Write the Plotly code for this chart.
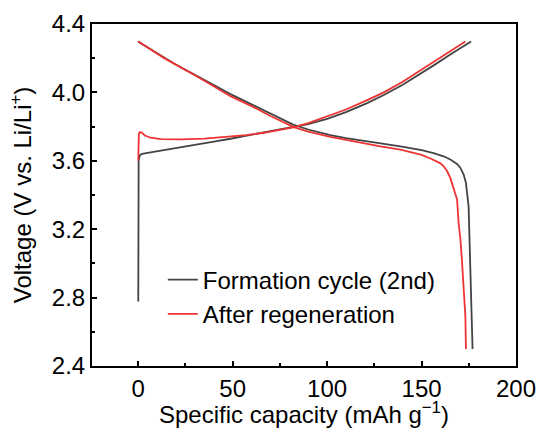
import plotly.graph_objects as go

# Formation cycle (2nd) - charge
fc_charge_x = [0, 0, 0.2, 0.8, 2, 5, 13.5, 25, 31.2, 40, 48.8, 57, 66.5, 75, 82, 90, 100, 110, 121.2, 130, 140, 150, 156.4, 165, 170, 176.2]
fc_charge_v = [2.777, 3.40, 3.60, 3.632, 3.640, 3.647, 3.662, 3.683, 3.695, 3.712, 3.729, 3.746, 3.764, 3.781, 3.795, 3.815, 3.845, 3.885, 3.937, 3.985, 4.045, 4.112, 4.158, 4.220, 4.255, 4.298]
# Formation cycle (2nd) - discharge
fc_dis_x = [0, 0.3, 5, 13.5, 20, 31.2, 40, 48.8, 60, 70, 82, 90, 101.7, 110, 121.2, 128.2, 138.8, 150, 156.4, 162, 165.2, 168.8, 170.5, 172.3, 173.5, 174.9, 175.8, 176.4, 177]
fc_dis_v = [4.300, 4.294, 4.262, 4.204, 4.162, 4.095, 4.042, 3.990, 3.930, 3.877, 3.812, 3.783, 3.750, 3.733, 3.715, 3.702, 3.685, 3.662, 3.645, 3.625, 3.608, 3.582, 3.560, 3.520, 3.470, 3.334, 3.030, 2.800, 2.500]

# After regeneration - charge
ar_charge_x = [0, 0, 0.3, 0.8, 1.8, 3.5, 6.5, 12, 22.4, 35, 48.8, 57, 66.5, 75, 82, 90, 101.7, 110, 121.2, 130, 140, 150, 156.4, 165, 173.2]
ar_charge_v = [3.600, 3.700, 3.755, 3.768, 3.765, 3.748, 3.735, 3.727, 3.725, 3.730, 3.740, 3.750, 3.764, 3.780, 3.796, 3.820, 3.866, 3.900, 3.955, 4.000, 4.062, 4.132, 4.180, 4.240, 4.298]
# After regeneration - discharge
ar_dis_x = [0, 0.3, 5, 13.5, 31.2, 48.8, 60, 70, 82.3, 90, 101.7, 110, 121.2, 128.2, 138.8, 150, 155, 160, 161.7, 163.5, 165.2, 167, 168.8, 169.6, 170.5, 171.3, 172.3, 173.2, 173.5]
ar_dis_v = [4.300, 4.296, 4.262, 4.202, 4.093, 3.978, 3.920, 3.862, 3.797, 3.770, 3.740, 3.722, 3.700, 3.685, 3.666, 3.635, 3.612, 3.585, 3.568, 3.540, 3.500, 3.432, 3.374, 3.237, 3.150, 3.030, 2.850, 2.690, 2.500]

names = ["Formation cycle (2nd)", "After regeneration"]
colors = ["#444444", "#ee3333"]
x_title = "Specific capacity (mAh g<sup>−1</sup>)"
y_title = "Voltage (V vs. Li/Li<sup>+</sup>)"

FONT = "Liberation Sans, Arial, sans-serif"
FS = 24

fig = go.Figure()
fig.add_trace(go.Scatter(x=fc_charge_x, y=fc_charge_v, mode="lines", name=names[0],
                         line=dict(color=colors[0], width=1.8), legendgroup="a"))
fig.add_trace(go.Scatter(x=fc_dis_x, y=fc_dis_v, mode="lines", name=names[0],
                         line=dict(color=colors[0], width=1.8), legendgroup="a", showlegend=False))
fig.add_trace(go.Scatter(x=ar_charge_x, y=ar_charge_v, mode="lines", name=names[1],
                         line=dict(color=colors[1], width=1.8), legendgroup="b"))
fig.add_trace(go.Scatter(x=ar_dis_x, y=ar_dis_v, mode="lines", name=names[1],
                         line=dict(color=colors[1], width=1.8), legendgroup="b", showlegend=False))

axis_common = dict(
    showline=True, linecolor="black", linewidth=2, mirror=True,
    ticks="inside", ticklen=5, tickwidth=1.5, tickcolor="black",
    showgrid=False, zeroline=False, automargin=False,
    tickfont=dict(family=FONT, size=FS, color="black"),
)

fig.update_xaxes(range=[-24.5, 200], tickvals=[0, 50, 100, 150, 200],
                 minor=dict(ticks="inside", ticklen=3, tickwidth=1.5, tickcolor="black", dtick=25, tick0=0),
                 **axis_common)
fig.update_yaxes(range=[2.4, 4.4], tickvals=[2.4, 2.8, 3.2, 3.6, 4.0, 4.4], ticktext=["2.4", "2.8", "3.2", "3.6", "4.0", "4.4"],
                 minor=dict(ticks="inside", ticklen=3, tickwidth=1.5, tickcolor="black", dtick=0.2, tick0=2.4),
                 title=dict(text=y_title, font=dict(family=FONT, size=FS, color="black"), standoff=13),
                 **axis_common)

# x-axis title as a paper-anchored annotation (placed below tick labels)
fig.add_annotation(text=x_title, xref="paper", yref="paper", x=0.5, y=-0.136,
                   xanchor="center", yanchor="middle", showarrow=False,
                   font=dict(family=FONT, size=FS, color="black"))

fig.update_layout(
    width=539, height=430,
    margin=dict(l=92, r=23, t=24, b=64),
    paper_bgcolor="white", plot_bgcolor="white",
    font=dict(family=FONT, size=FS, color="black"),
    showlegend=True,
    legend=dict(x=0.167, y=0.317, xanchor="left", yanchor="top",
                bgcolor="rgba(0,0,0,0)", borderwidth=0,
                font=dict(family=FONT, size=FS, color="black"),
                tracegroupgap=0),
)

fig.write_html("out.html")
